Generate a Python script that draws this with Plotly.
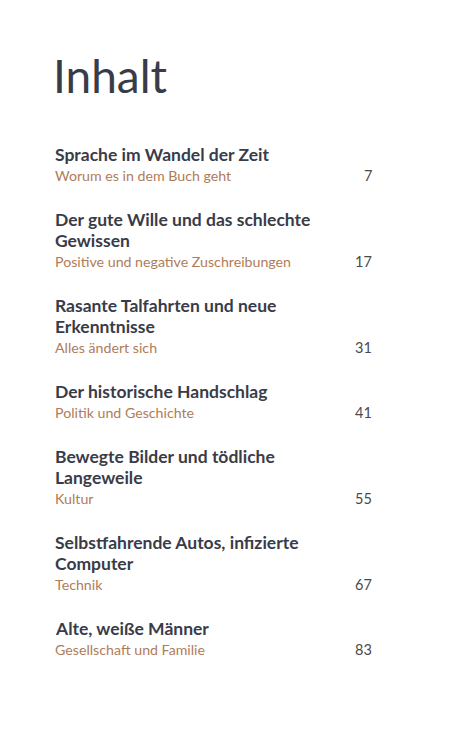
import plotly.graph_objects as go

title = "Inhalt"
headings = [
    "Sprache im Wandel der Zeit",
    "Der gute Wille und das schlechte<br>Gewissen",
    "Rasante Talfahrten und neue<br>Erkenntnisse",
    "Der historische Handschlag",
    "Bewegte Bilder und tödliche<br>Langeweile",
    "Selbstfahrende Autos, infizierte<br>Computer",
    "Alte, weiße Männer",
]
subtitles = [
    "Worum es in dem Buch geht",
    "Positive und negative Zuschreibungen",
    "Alles ändert sich",
    "Politik und Geschichte",
    "Kultur",
    "Technik",
    "Gesellschaft und Familie",
]
pages = [7, 17, 31, 41, 55, 67, 83]

W, H = 457, 750
off = 8  # page body margin, so axis units equal window pixels
left, right = 53, 374
line_h = 21
gap = 44
dark = "#393c48"
brown = "#b07c58"
num_col = "#4a4a4a"
font = "Lato"

fig = go.Figure()
fig.add_trace(go.Scatter(x=[off, W + off], y=[off, H + off], mode="markers",
                         marker=dict(opacity=0), hoverinfo="skip"))

ann = []
ann.append(dict(x=left - 2, y=75, text=title, xanchor="left", yanchor="middle",
                showarrow=False, font=dict(family=font, size=46, color=dark)))

y = 154
for head, sub, pg in zip(headings, subtitles, pages):
    for line in head.split("<br>"):
        ann.append(dict(x=left, y=y, text="<b>" + line + "</b>", xanchor="left",
                        yanchor="middle", showarrow=False,
                        font=dict(family=font, size=17.5, color=dark)))
        y += line_h
    ann.append(dict(x=left, y=y, text=sub, xanchor="left", yanchor="middle",
                    showarrow=False, font=dict(family=font, size=14.2, color=brown)))
    ann.append(dict(x=right, y=y, text=str(pg), xanchor="right", yanchor="middle",
                    showarrow=False, font=dict(family=font, size=14.5, color=num_col)))
    y += gap

fig.update_layout(
    width=W, height=H,
    margin=dict(l=0, r=0, t=0, b=0),
    paper_bgcolor="white", plot_bgcolor="white",
    showlegend=False,
    annotations=ann,
    xaxis=dict(range=[off, W + off], visible=False, fixedrange=True),
    yaxis=dict(range=[H + off, off], visible=False, fixedrange=True),
)
fig.write_html("out.html", config={"displayModeBar": False})
